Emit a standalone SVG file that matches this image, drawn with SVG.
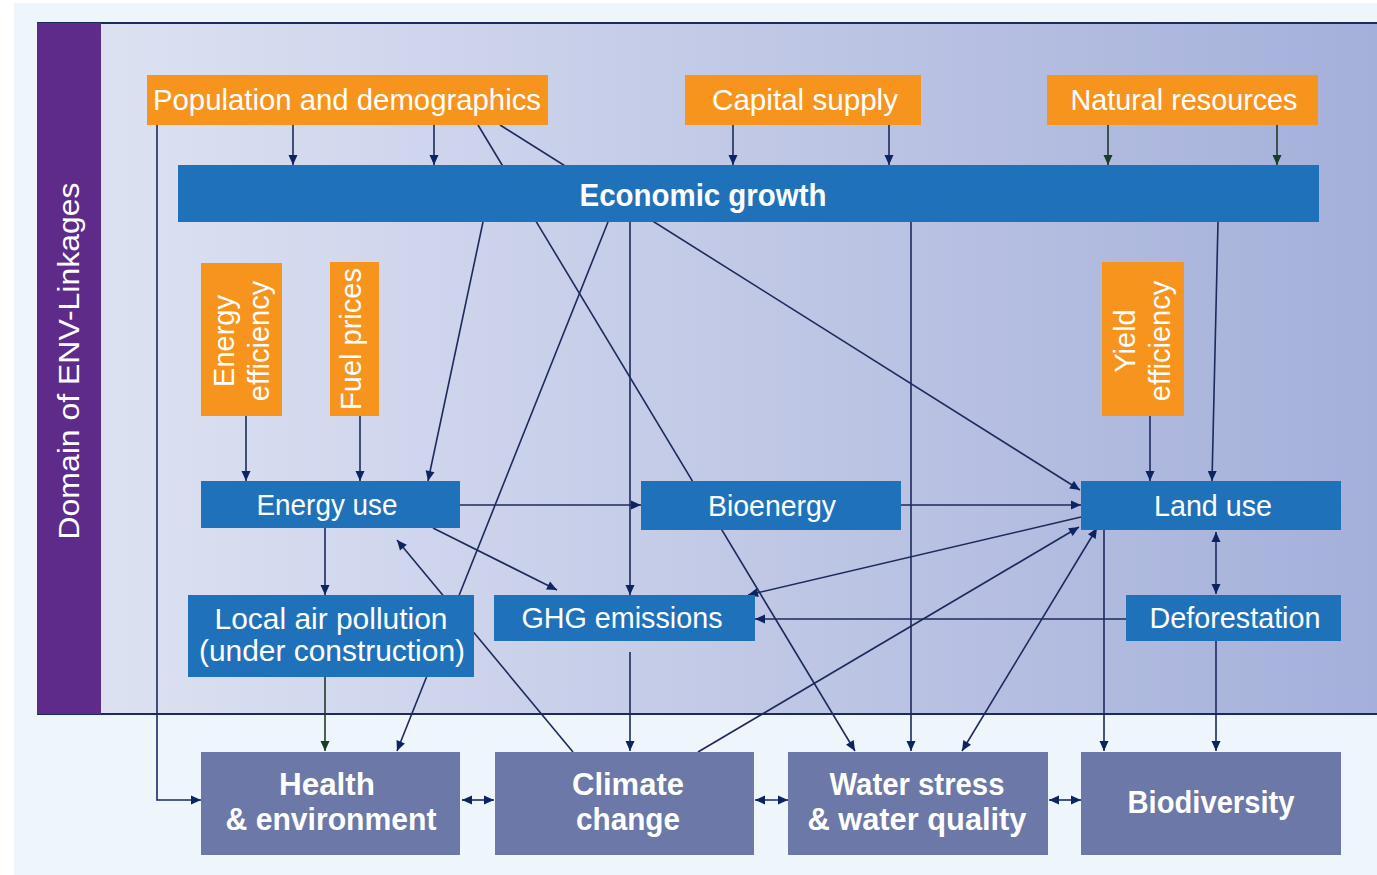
<svg xmlns="http://www.w3.org/2000/svg" width="1377" height="875" viewBox="0 0 1377 875">
<defs>
<linearGradient id="panel" x1="0" y1="0" x2="1" y2="0">
<stop offset="0" stop-color="#dfe4f3"/>
<stop offset="0.5" stop-color="#c3cae7"/>
<stop offset="1" stop-color="#a4b0da"/>
</linearGradient>
<marker id="ah" viewBox="0 0 10 10" refX="10" refY="5" markerWidth="11" markerHeight="10" markerUnits="userSpaceOnUse" orient="auto-start-reverse">
<path d="M0,0.5 L10,5 L0,9.5 z" fill="#0c2461"/>
</marker>
<marker id="ahg" viewBox="0 0 10 10" refX="10" refY="5" markerWidth="11" markerHeight="10" markerUnits="userSpaceOnUse" orient="auto-start-reverse">
<path d="M0,0.5 L10,5 L0,9.5 z" fill="#173f26"/>
</marker>
<style>
.or{fill:#f7941e}
.bl{fill:#1f72b9}
.bt{fill:#6b78a8}
.t{font-family:"Liberation Sans",Arial,sans-serif;fill:#ffffff;font-size:29px;text-anchor:middle}
.b{font-weight:bold;font-size:31px}
.c{fill:none;stroke:#1c2a5c;stroke-width:1.6}
.a{marker-end:url(#ah)}
.d{marker-start:url(#ah);marker-end:url(#ah)}
.g{fill:none;stroke:#1f3a2a;stroke-width:1.6;marker-end:url(#ahg)}
</style>
</defs>
<rect x="0" y="0" width="1377" height="875" fill="#ffffff"/>
<rect x="14" y="3" width="1363" height="872" fill="#eef5fb"/>
<g id="panel-bg">
<rect x="37" y="23" width="1340" height="691" fill="url(#panel)"/>
<line x1="37" y1="23" x2="1377" y2="23" stroke="#1c2a5c" stroke-width="2"/>
<line x1="37" y1="714" x2="1377" y2="714" stroke="#1c2a5c" stroke-width="2"/>
<rect x="37" y="23" width="64" height="691" fill="#5e2b8a"/>
<text class="t" transform="translate(79,361) rotate(-90)" font-size="30" textLength="357" lengthAdjust="spacingAndGlyphs">Domain of ENV-Linkages</text>
</g>
<g id="connectors">
<path class="c a" d="M293,125 V165"/>
<path class="c a" d="M434,125 V165"/>
<path class="c a" d="M733,125 V165"/>
<path class="c a" d="M889,125 V165"/>
<path class="g" d="M1108,125 V165"/>
<path class="g" d="M1277,125 V165"/>
<path class="c a" d="M478,125 L855,751"/>
<path class="c a" d="M500,125 L1080,490"/>
<path class="c a" d="M157,125 V800 H201"/>
<path class="c a" d="M483,222 L428,481"/>
<path class="c a" d="M608,222 L397,751"/>
<path class="c a" d="M630,222 V595"/>
<path class="c a" d="M911,222 V751"/>
<path class="c a" d="M1218,222 L1212,481"/>
<path class="c a" d="M246,416 V481"/>
<path class="c a" d="M360,416 V481"/>
<path class="c a" d="M1150,416 V481"/>
<path class="c a" d="M460,505 H641"/>
<path class="c a" d="M901,505 H1081"/>
<path class="c a" d="M325,528 V595"/>
<path class="c a" d="M433,528 L557,590"/>
<path class="c a" d="M573,752 L397,540"/>
<path class="c a" d="M1081,517 L748,595"/>
<path class="c a" d="M1126,619 H755"/>
<path class="c d" d="M1216,532 V594"/>
<path class="c a" d="M1216,641 V751"/>
<path class="c a" d="M1104,530 V751"/>
<path class="c a" d="M698,752 L1079,527"/>
<path class="c d" d="M962,751 L1097,528"/>
<path class="g" d="M325,677 V751"/>
<path class="c a" d="M630,652 V751"/>
<path class="c d" d="M462,800 H494"/>
<path class="c d" d="M755,800 H788"/>
<path class="c d" d="M1049,800 H1081"/>
</g>
<g id="population"><rect class="or" x="147" y="75" width="401" height="50"/><text class="t" x="347" y="110" textLength="388" lengthAdjust="spacingAndGlyphs">Population and demographics</text></g>
<g id="capital"><rect class="or" x="685" y="75" width="236" height="50"/><text class="t" x="805" y="110" textLength="186" lengthAdjust="spacingAndGlyphs">Capital supply</text></g>
<g id="natural"><rect class="or" x="1047" y="75" width="271" height="50"/><text class="t" x="1184" y="110" textLength="227" lengthAdjust="spacingAndGlyphs">Natural resources</text></g>
<g id="economic"><rect class="bl" x="178" y="165" width="1141" height="57"/><text class="t b" x="703" y="206" textLength="247" lengthAdjust="spacingAndGlyphs">Economic growth</text></g>
<g id="energy-efficiency"><rect class="or" x="201" y="263" width="81" height="153"/><text class="t" transform="translate(241,341) rotate(-90)" font-size="28"><tspan x="0" y="-7">Energy</tspan><tspan x="0" y="28">efficiency</tspan></text></g>
<g id="fuel-prices"><rect class="or" x="330" y="262" width="49" height="154"/><text class="t" transform="translate(355,339) rotate(-90)" font-size="28"><tspan x="0" y="6">Fuel prices</tspan></text></g>
<g id="yield-efficiency"><rect class="or" x="1102" y="262" width="82" height="154"/><text class="t" transform="translate(1143,341) rotate(-90)" font-size="28"><tspan x="0" y="-8">Yield</tspan><tspan x="0" y="27">efficiency</tspan></text></g>
<g id="energy-use"><rect class="bl" x="201" y="481" width="259" height="47"/><text class="t" x="327" y="515" textLength="141" lengthAdjust="spacingAndGlyphs">Energy use</text></g>
<g id="bioenergy"><rect class="bl" x="641" y="481" width="260" height="49"/><text class="t" x="772" y="516" textLength="128" lengthAdjust="spacingAndGlyphs">Bioenergy</text></g>
<g id="land-use"><rect class="bl" x="1081" y="481" width="260" height="49"/><text class="t" x="1213" y="516" textLength="118" lengthAdjust="spacingAndGlyphs">Land use</text></g>
<g id="local-air"><rect class="bl" x="188" y="595" width="286" height="82"/><text class="t" x="331" y="629" textLength="233" lengthAdjust="spacingAndGlyphs">Local air pollution</text><text class="t" x="332" y="661" textLength="266" lengthAdjust="spacingAndGlyphs">(under construction)</text></g>
<g id="ghg"><rect class="bl" x="494" y="595" width="261" height="46"/><text class="t" x="622" y="628" textLength="201" lengthAdjust="spacingAndGlyphs">GHG emissions</text></g>
<g id="deforestation"><rect class="bl" x="1126" y="595" width="215" height="46"/><text class="t" x="1235" y="628" textLength="171" lengthAdjust="spacingAndGlyphs">Deforestation</text></g>
<g id="health"><rect class="bt" x="201" y="752" width="259" height="103"/><text class="t b" x="327" y="795" textLength="96" lengthAdjust="spacingAndGlyphs">Health</text><text class="t b" x="331" y="830" textLength="211" lengthAdjust="spacingAndGlyphs">&amp; environment</text></g>
<g id="climate"><rect class="bt" x="495" y="752" width="259" height="103"/><text class="t b" x="628" y="795" textLength="112" lengthAdjust="spacingAndGlyphs">Climate</text><text class="t b" x="628" y="830" textLength="104" lengthAdjust="spacingAndGlyphs">change</text></g>
<g id="water"><rect class="bt" x="788" y="752" width="260" height="103"/><text class="t b" x="917" y="795" textLength="175" lengthAdjust="spacingAndGlyphs">Water stress</text><text class="t b" x="917" y="830" textLength="219" lengthAdjust="spacingAndGlyphs">&amp; water quality</text></g>
<g id="biodiversity"><rect class="bt" x="1081" y="752" width="260" height="103"/><text class="t b" x="1211" y="813" textLength="167" lengthAdjust="spacingAndGlyphs">Biodiversity</text></g>
</svg>
